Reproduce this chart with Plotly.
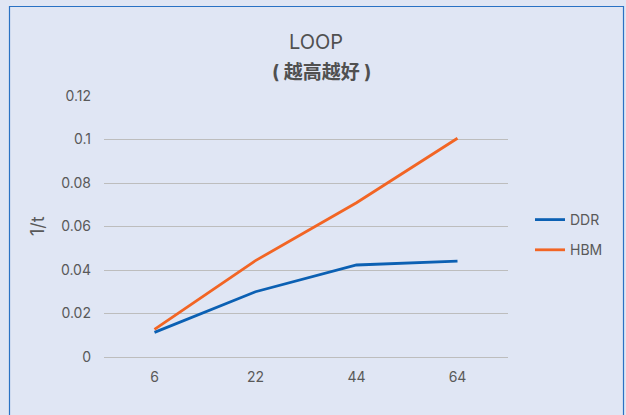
import plotly.graph_objects as go

# Data
categories = ["6", "22", "44", "64"]
ddr = [0.0113, 0.030, 0.0423, 0.0441]
hbm = [0.0127, 0.0443, 0.0709, 0.1006]
y_ticks = [0, 0.02, 0.04, 0.06, 0.08, 0.1, 0.12]
y_tick_text = ["0", "0.02", "0.04", "0.06", "0.08", "0.1", "0.12"]

BG = "#e0e6f4"
TEXT = "#595959"
GRID = "#bdbdbd"
FONT = "Inter, Lato, 'Noto Sans CJK SC', sans-serif"

W, H = 626, 415
L, R, T, B = 104, 118, 96, 58
pw, ph = W - L - R, H - T - B


def px_x(p):
    return (p - L) / pw


def px_y(p):
    return (H - B - p) / ph


fig = go.Figure()
fig.add_trace(go.Scatter(x=categories, y=ddr, mode="lines", name="DDR",
                         legendgroup="a",
                         line=dict(color="#0b60b3", width=2.8)))
fig.add_trace(go.Scatter(x=categories, y=hbm, mode="lines", name="HBM",
                         legendgroup="b",
                         line=dict(color="#f26524", width=2.8)))

fig.update_layout(
    width=W, height=H,
    margin=dict(l=L, r=R, t=T, b=B),
    paper_bgcolor=BG, plot_bgcolor=BG,
    font=dict(family=FONT, color=TEXT, size=13),
    showlegend=True,
    legend=dict(x=px_x(530), xanchor="left", y=px_y(204), yanchor="top",
                bgcolor="rgba(0,0,0,0)", font=dict(size=14, color=TEXT),
                traceorder="grouped", tracegroupgap=9),
    xaxis=dict(type="category", range=[-0.5, 3.5], showgrid=False,
               showline=False, zeroline=False, ticks="",
               ticklabelstandoff=10,
               tickfont=dict(size=14, color=TEXT)),
    yaxis=dict(range=[0, 0.12], tickvals=y_ticks, ticktext=y_tick_text,
               showgrid=True, gridcolor=GRID, gridwidth=1.2,
               zeroline=True, zerolinecolor=GRID, zerolinewidth=1.2,
               showline=False, ticks="", ticklabelstandoff=12,
               tickfont=dict(size=14, color=TEXT)),
    annotations=[
        dict(text="LOOP", xref="paper", yref="paper",
             x=px_x(316), y=px_y(42), xanchor="center", yanchor="middle",
             showarrow=False, font=dict(size=20, color="#505050")),
        dict(text="<b>( 越高越好 )</b>", xref="paper", yref="paper",
             x=px_x(321), y=px_y(73), xanchor="center", yanchor="middle",
             showarrow=False, font=dict(size=19, color="#505050")),
        dict(text="1/t", xref="paper", yref="paper", textangle=-90,
             x=px_x(37), y=px_y(226), xanchor="center", yanchor="middle",
             showarrow=False, font=dict(size=18, color=TEXT)),
    ],
    shapes=[
        dict(type="rect", xref="paper", yref="paper",
             x0=px_x(9.5), x1=px_x(623.5), y0=px_y(430), y1=px_y(6.5),
             line=dict(color="#2a72c4", width=1.2), fillcolor="rgba(0,0,0,0)",
             layer="below"),
    ],
)

fig.write_html("out.html")
